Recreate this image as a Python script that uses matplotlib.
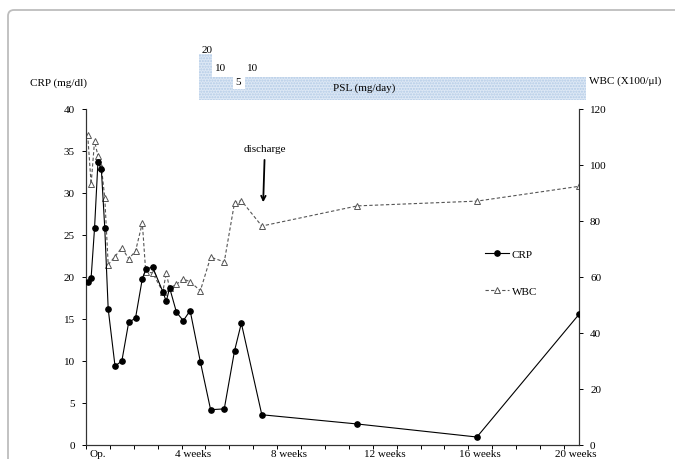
import numpy as np
import matplotlib
matplotlib.use('Agg')
import matplotlib.pyplot as plt
from matplotlib.patches import FancyBboxPatch

plt.rcParams['font.family'] = ['Liberation Serif', 'DejaVu Serif']
plt.rcParams['font.size'] = 8

# days from operation
crp_days = [-3, -2, -1, 0, 1, 2, 3, 5, 7, 9, 11, 13, 14, 16, 19, 20, 21, 23, 25, 27, 30,
            33, 37, 40, 42, 48, 76, 111, 141]
crp_vals = [19.4, 19.9, 25.8, 33.7, 32.8, 25.8, 16.2, 9.4, 10.0, 14.6, 15.1, 19.8, 20.9, 21.2,
            18.25, 17.1, 18.7, 15.8, 14.8, 16.0, 9.9, 4.2, 4.3, 11.2, 14.5, 3.6, 2.5, 0.95, 15.6]

wbc_days = [-3, -2, -1, 0, 1, 2, 3, 5, 7, 9, 11, 13, 14, 16, 19, 20, 21, 23, 25, 27, 30,
            33, 37, 40, 42, 48, 76, 111, 141]
wbc_vals = [110.7, 93.2, 108.5, 103.3, 99.4, 88.3, 64.4, 67.3, 70.5, 66.5, 69.2, 79.3, 61.7,
            61.5, 54.7, 61.4, 56.0, 57.4, 59.3, 58.3, 55.1, 67.1, 65.4, 86.5, 87.3, 78.2, 85.4,
            87.1, 92.4]

# prednisolone steps (start day, dose)
psl_start = [29.5, 33.5, 39.5, 43.0]
psl_dose = [20, 10, 5, 10]
psl_end = 143.0

week_ticks = [0, 28, 56, 84, 112, 140]
week_labels = ['Op.', '4 weeks', '8 weeks', '12 weeks', '16 weeks', '20 weeks']
discharge_day = 48.4

W, H = 675, 460
fig = plt.figure(figsize=(W / 100, H / 100), dpi=100)

# rounded frame round the chart
frame = FancyBboxPatch((0.08, -1.0), 8.0, 4.49 + 1.0,
                       boxstyle='round,pad=0,rounding_size=0.06',
                       transform=fig.dpi_scale_trans, fill=False,
                       edgecolor='#bdbdbd', linewidth=1.3)
fig.patches.append(frame)

ax_l, ax_r, ax_t, ax_b = 86, 579, 110, 446
ax = fig.add_axes([ax_l / W, 1 - ax_b / H, (ax_r - ax_l) / W, (ax_b - ax_t) / H])
ax2 = ax.twinx()

xmin = -3.5
px_per_day = 3.414
xmax = xmin + (ax_r - ax_l) / px_per_day

ax2.plot(wbc_days, wbc_vals, color='#555555', lw=0.8, ls=(0, (3, 2)), marker='^',
         ms=4.5, mfc='white', mec='#555555', mew=0.7, label='WBC', zorder=2)
ax.plot(crp_days, crp_vals, color='black', lw=0.8, marker='o', ms=3.8, mfc='black',
        mec='black', label='CRP', zorder=3)
ax.set_zorder(ax2.get_zorder() + 1)
ax.patch.set_visible(False)

ax.set_xlim(xmin, xmax)
ax.set_ylim(0, 40)
ax2.set_ylim(0, 120)
ax.set_yticks(np.arange(0, 41, 5))
ax2.set_yticks(np.arange(0, 121, 20))
ax.set_xticks(week_ticks)
ax.set_xticklabels(week_labels)
ax.set_xticks(np.arange(xmin, xmax, 7), minor=True)
ax.tick_params(axis='x', which='major', length=0, pad=3)
ax.tick_params(axis='x', which='minor', length=3, direction='out', width=0.7)
ax.tick_params(axis='y', length=3, direction='out', width=0.7, pad=5)
ax2.tick_params(axis='y', length=3, direction='out', width=0.7, pad=5)

for a in (ax, ax2):
    a.spines['top'].set_visible(False)
    for s in ('left', 'right', 'bottom'):
        a.spines[s].set_color('#333333')
        a.spines[s].set_linewidth(0.8)

fig.text(30 / W, 1 - 83 / H, 'CRP (mg/dl)', ha='left', va='center', fontsize=8)
fig.text(589 / W, 1 - 81 / H, 'WBC (X100/\u03bcl)', ha='left', va='center', fontsize=8)

ax.annotate('discharge', xy=(discharge_day, 28.9), xytext=(discharge_day + 0.5, 35.3),
            ha='center', va='center', fontsize=8,
            arrowprops=dict(arrowstyle='->', lw=1.3, color='black', shrinkA=3, shrinkB=0))

h1, l1 = ax.get_legend_handles_labels()
h2, l2 = ax2.get_legend_handles_labels()
ax.legend(h1 + h2, l1 + l2, loc='upper left', bbox_to_anchor=(0.81, 0.583),
          frameon=False, numpoints=1, handlelength=2.1, handletextpad=0.3,
          labelspacing=2.45, borderpad=0, borderaxespad=0, fontsize=8)

# PSL staircase above the plot
psl_top, psl_bot, psl_right = 55, 101, 586
pax = fig.add_axes([ax_l / W, 1 - psl_bot / H, (psl_right - ax_l) / W, (psl_bot - psl_top) / H])
pax.set_xlim(xmin, xmin + (psl_right - ax_l) / px_per_day)
pax.set_ylim(0, 20)
pax.axis('off')
edges = psl_start + [psl_end]
xs = np.repeat(edges, 2)[1:-1]
ys = np.repeat(psl_dose, 2)
pax.fill_between(xs, 0, ys, facecolor='#dde8f5', edgecolor='#b3cbe6', hatch='......',
                 linewidth=0)
label_off = [2.0, 4.3, 3.0, 4.3]
for x0, d, off in zip(psl_start, psl_dose, label_off):
    pax.text(x0 + 0.8, d + off, str(d), ha='left', va='center', fontsize=8, clip_on=False)
pax.text(78.0, 5.6, 'PSL (mg/day)', ha='center', va='center', fontsize=8)

fig.savefig('out.png', dpi=100)
